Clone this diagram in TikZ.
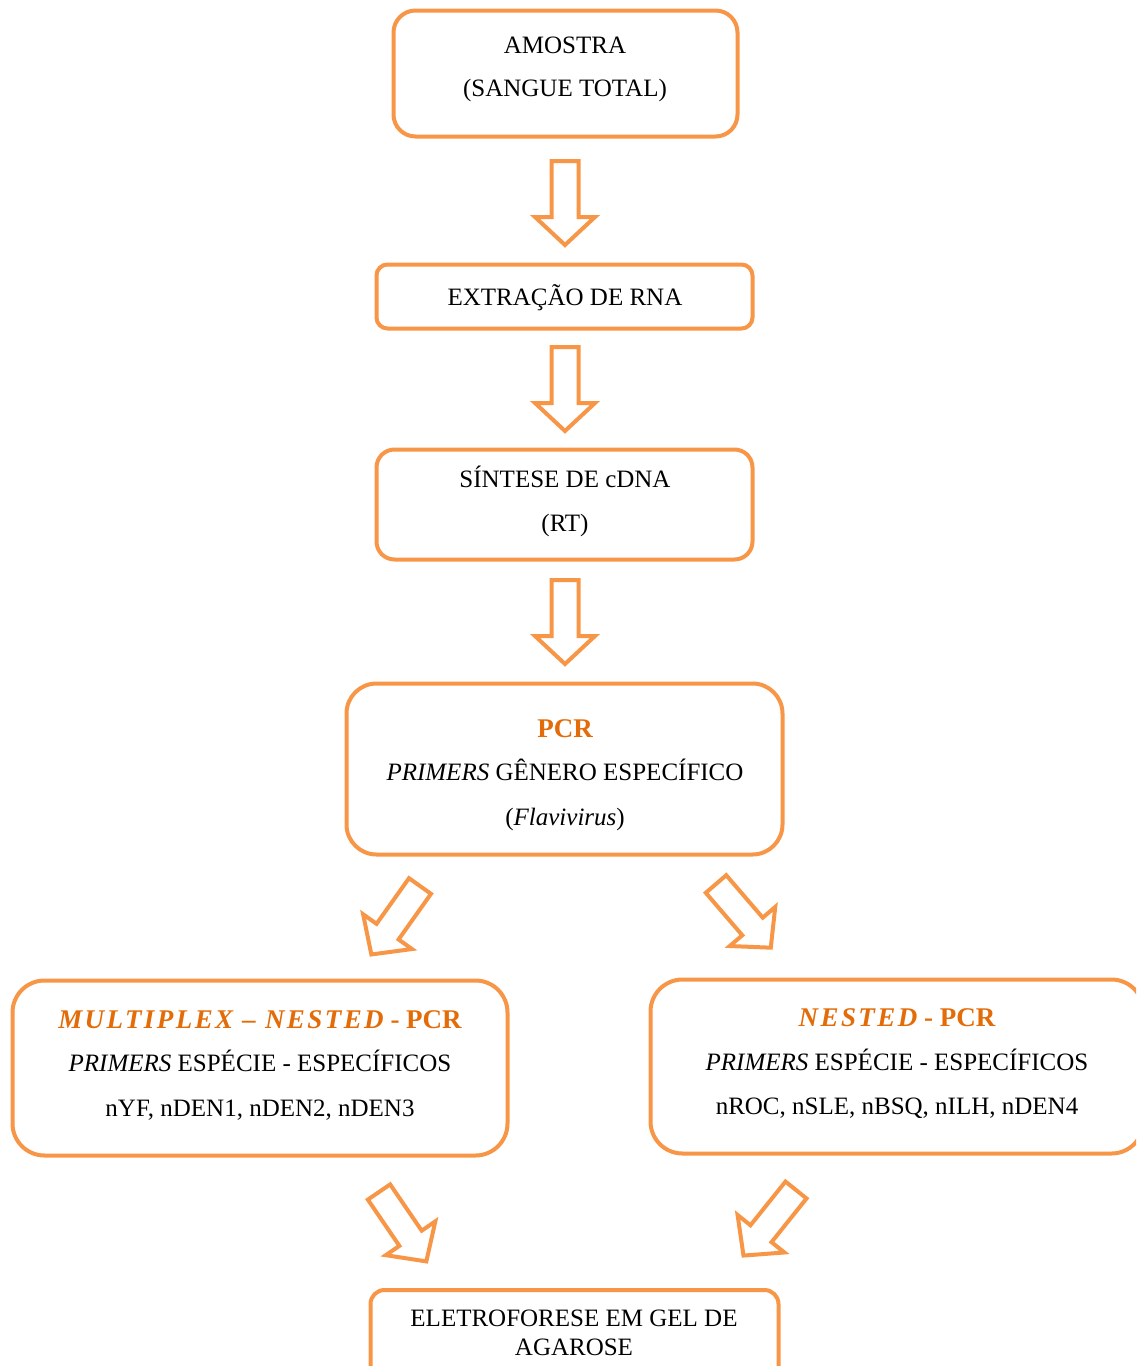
\documentclass[tikz,border=0pt]{standalone}
\usepackage{fontspec}
\setmainfont{Liberation Serif}
\definecolor{orng}{HTML}{F79646}
\definecolor{dorng}{HTML}{E36C09}
\newcommand\ttlit[1]{{\itshape\addfontfeatures{LetterSpace=9}#1}}
\begin{document}
\begin{tikzpicture}[x=1pt,y=-1pt,
  box/.style={draw=orng, line width=4pt, rounded corners=#1, inner sep=0pt, fill=white},
  lbl/.style={inner sep=0pt, font=\fontsize{25}{30}\selectfont, text height=16.5pt, text depth=0pt},
  ttl/.style={inner sep=0pt, text=dorng, font=\fontsize{27}{32}\selectfont\bfseries, text height=18pt, text depth=0pt},
  arrowline/.style={draw=orng, line width=4pt, line join=miter, fill=white},
  barrow/.pic={\draw[arrowline] (-13.5,0) -- (13.5,0) -- (13.5,56) -- (30,56) -- (0,84) -- (-30,56) -- (-13.5,56) -- cycle;}
]
\useasboundingbox (0,0) rectangle (1136,1366);
\clip (0,0) rectangle (1136,1366);

% boxes
\node[box=22pt, minimum width=344pt, minimum height=126pt] (b1) at (565.5,73.5) {};
\node[box=11pt, minimum width=376pt, minimum height=64pt] (b2) at (564.5,296.5) {};
\node[box=18pt, minimum width=376pt, minimum height=110pt] (b3) at (564.5,504.5) {};
\node[box=30pt, minimum width=436pt, minimum height=171pt] (b4) at (564.5,769) {};
\node[box=32pt, minimum width=495pt, minimum height=175pt] (b5) at (260,1068) {};
\node[box=32pt, minimum width=493pt, minimum height=174pt] (b6) at (897,1066.5) {};
\node[box=14pt, minimum width=408pt, minimum height=96pt] (b7) at (574.5,1338) {};

% texts
\node[lbl] (t1a) at (565,45) {AMOSTRA};
\node[lbl] (t1b) at (565,88) {(SANGUE TOTAL)};
\node[lbl] (t2) at (565,297) {EXTRAÇÃO DE RNA};
\node[lbl] (t3a) at (565,479) {SÍNTESE DE cDNA};
\node[lbl] (t3b) at (565,523) {(RT)};
\node[ttl] (t4a) at (565,728) {PCR};
\node[lbl] (t4b) at (565,772) {\textit{PRIMERS} GÊNERO ESPECÍFICO};
\node[lbl] (t4c) at (565,817) {(\textit{Flavivirus})};
\node[ttl] (t5a) at (260,1019) {\ttlit{MULTIPLEX – NESTED} - PCR};
\node[lbl] (t5b) at (260,1063) {\textit{PRIMERS} ESPÉCIE - ESPECÍFICOS};
\node[lbl] (t5c) at (260,1108) {nYF, nDEN1, nDEN2, nDEN3};
\node[ttl] (t6a) at (897,1017) {\ttlit{NESTED} - PCR};
\node[lbl] (t6b) at (897,1062) {\textit{PRIMERS} ESPÉCIE - ESPECÍFICOS};
\node[lbl] (t6c) at (897,1106) {nROC, nSLE, nBSQ, nILH, nDEN4};
\node[lbl] (t7a) at (574,1318) {ELETROFORESE EM GEL DE};
\node[lbl] (t7b) at (574,1347) {AGAROSE};

% block arrows
\coordinate (a1) at (565,161);
\coordinate (a2) at (565,347);
\coordinate (a3) at (565,580);
\coordinate (a4) at (420,886);
\coordinate (a5) at (716,884);
\coordinate (a6) at (379,1192);
\coordinate (a7) at (796,1190);
\pic at (a1) {barrow};
\pic at (a2) {barrow};
\pic at (a3) {barrow};
\pic[rotate=-35.4] at (a4) {barrow};
\pic[rotate=40.7] at (a5) {barrow};
\pic[rotate=34.3] at (a6) {barrow};
\pic[rotate=-38.7] at (a7) {barrow};
\end{tikzpicture}
\end{document}
